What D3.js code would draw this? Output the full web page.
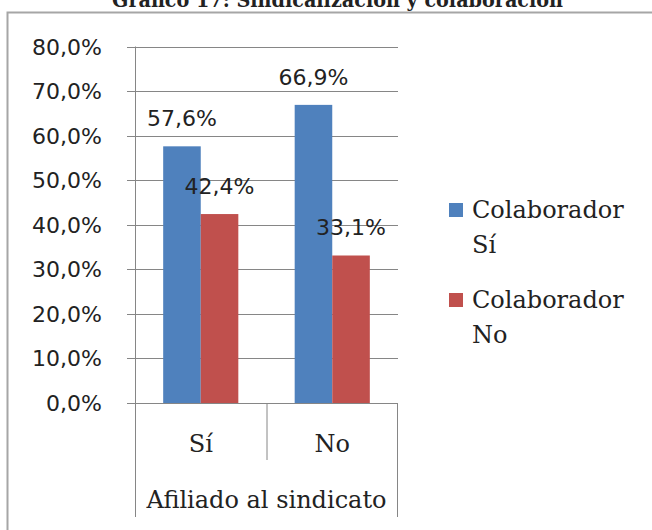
<!DOCTYPE html>
<html>
<head>
<meta charset="utf-8">
<script src="https://cdn.jsdelivr.net/npm/d3@7"></script>
<style>
  body { margin: 0; background: #fff; }
  svg { display: block; }
</style>
</head>
<body>
<div id="chart"></div>
<script>
// data
var categories = ["Sí", "No"];
var seriesNames = ["Colaborador Sí", "Colaborador No"];
var legendLines = [["Colaborador", "Sí"], ["Colaborador", "No"]];
var colaboradorSi = [57.6, 66.9];
var colaboradorNo = [42.4, 33.1];
var yTicks = [0, 10, 20, 30, 40, 50, 60, 70, 80];
var groupLabel = "Afiliado al sindicato";
var title = "Gráfico 17: Sindicalización y colaboración";

var colors = ["#4f81bd", "#c0504d"];
var W = 652, H = 530;
var plot = {left: 135, right: 398, top: 46.5, bottom: 403};

var svg = d3.select("#chart").append("svg")
    .attr("width", W)
    .attr("height", H);

var fmt = function(v) { return v.toFixed(1).replace(".", ",") + "%"; };
var sans = "'DejaVu Sans', Verdana, sans-serif";
var serif = "'DejaVu Serif', Georgia, serif";

// clipped title at the very top
svg.append("text")
    .attr("x", 112)
    .attr("y", 7)
    .attr("textLength", 451)
    .attr("lengthAdjust", "spacingAndGlyphs")
    .style("font-family", serif)
    .style("font-weight", "bold")
    .style("font-size", "20px")
    .attr("fill", "#222")
    .text(title);

// outer frame (only top and left visible)
svg.append("path")
    .attr("d", "M7.5," + H + "V12.5H" + W)
    .attr("fill", "none")
    .attr("stroke", "#a6a6a6")
    .attr("stroke-width", 2);

// scales
var y = d3.scaleLinear().domain([0, 80]).range([plot.bottom, plot.top]);
var x0 = d3.scaleBand().domain(categories).range([plot.left, plot.right]);
var x1 = d3.scaleBand().domain(seriesNames).range([0, x0.bandwidth()]).paddingOuter(0.75);

// gridlines + ticks
svg.append("g").selectAll("line")
    .data(yTicks)
    .enter().append("line")
      .attr("x1", plot.left - 8)
      .attr("x2", plot.right)
      .attr("y1", function(d) { return Math.round(y(d)) + 0.5; })
      .attr("y2", function(d) { return Math.round(y(d)) + 0.5; })
      .attr("stroke", "#868686")
      .attr("stroke-width", 1);

svg.append("g").selectAll("text")
    .data(yTicks)
    .enter().append("text")
      .attr("x", 102)
      .attr("y", function(d) { return y(d) + 8; })
      .attr("text-anchor", "end")
      .style("font-family", sans)
      .style("font-size", "22px")
      .attr("fill", "#222")
      .text(fmt);

// bars
var rows = categories.map(function(c, i) { return {cat: c, values: [colaboradorSi[i], colaboradorNo[i]]}; });

var groups = svg.append("g").selectAll("g")
    .data(rows)
    .enter().append("g")
      .attr("transform", function(d) { return "translate(" + x0(d.cat) + ",0)"; });

groups.selectAll("rect")
    .data(function(d) { return d.values.map(function(v, j) { return {s: seriesNames[j], v: v, j: j}; }); })
    .enter().append("rect")
      .attr("x", function(d) { return x1(d.s); })
      .attr("width", x1.bandwidth())
      .attr("y", function(d) { return y(d.v); })
      .attr("height", function(d) { return y(0) - y(d.v); })
      .attr("fill", function(d) { return colors[d.j]; });

groups.selectAll("text")
    .data(function(d) { return d.values.map(function(v, j) { return {s: seriesNames[j], v: v}; }); })
    .enter().append("text")
      .attr("x", function(d) { return x1(d.s) + x1.bandwidth() / 2; })
      .attr("y", function(d) { return y(d.v) - 20; })
      .attr("text-anchor", "middle")
      .style("font-family", sans)
      .style("font-size", "22px")
      .attr("fill", "#222")
      .text(function(d) { return fmt(d.v); });

// axis lines and category dividers
var axisG = svg.append("g").attr("stroke", "#868686").attr("stroke-width", 1);
axisG.append("line")
    .attr("x1", plot.left + 0.5).attr("x2", plot.left + 0.5)
    .attr("y1", plot.top).attr("y2", 517);
axisG.append("line")
    .attr("x1", x0("No") + 0.5).attr("x2", x0("No") + 0.5)
    .attr("y1", plot.bottom).attr("y2", 460);
axisG.append("line")
    .attr("x1", plot.right - 0.5).attr("x2", plot.right - 0.5)
    .attr("y1", plot.bottom).attr("y2", 517);

svg.append("g").selectAll("text")
    .data(categories)
    .enter().append("text")
      .attr("x", function(d) { return x0(d) + x0.bandwidth() / 2; })
      .attr("y", 452)
      .attr("text-anchor", "middle")
      .style("font-family", serif)
      .style("font-size", "24px")
      .attr("fill", "#222")
      .text(function(d) { return d; });

svg.append("text")
    .attr("x", (plot.left + plot.right) / 2)
    .attr("y", 508)
    .attr("text-anchor", "middle")
    .style("font-family", serif)
    .style("font-size", "24px")
    .attr("fill", "#222")
    .text(groupLabel);

// legend
var legend = svg.append("g").selectAll("g")
    .data(legendLines)
    .enter().append("g")
      .attr("transform", function(d, i) { return "translate(449," + (203 + i * 90) + ")"; });

legend.append("rect")
    .attr("width", 14)
    .attr("height", 14)
    .attr("fill", function(d, i) { return colors[i]; });

legend.append("text")
    .attr("x", 23)
    .attr("y", 15)
    .style("font-family", serif)
    .style("font-size", "24px")
    .attr("fill", "#222")
    .selectAll("tspan")
    .data(function(d) { return d; })
    .enter().append("tspan")
      .attr("x", 23)
      .attr("dy", function(d, i) { return i === 0 ? 0 : 35; })
      .text(function(d) { return d; });
</script>
</body>
</html>
